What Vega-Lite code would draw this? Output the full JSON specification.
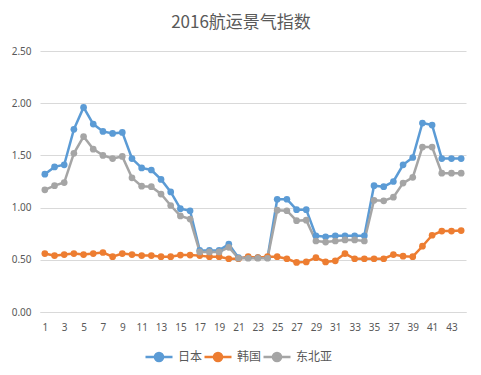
{
  "$schema": "https://vega.github.io/schema/vega-lite/v6.json",
  "width": 426,
  "height": 261,
  "autosize": {"type": "none"},
  "padding": {"left": 40, "top": 51, "right": 15, "bottom": 63},
  "background": "white",
  "title": {"text": "2016航运景气指数", "fontSize": 17, "font": "Noto Sans CJK SC", "fontWeight": "normal", "color": "#595959", "anchor": "middle", "offset": 14, "dx": -12},
  "datasets": {
    "raw": [
      {"s":"日本","i":1,"v":1.32},{"s":"日本","i":2,"v":1.39},{"s":"日本","i":3,"v":1.41},{"s":"日本","i":4,"v":1.75},{"s":"日本","i":5,"v":1.96},{"s":"日本","i":6,"v":1.80},{"s":"日本","i":7,"v":1.73},{"s":"日本","i":8,"v":1.71},{"s":"日本","i":9,"v":1.72},{"s":"日本","i":10,"v":1.47},{"s":"日本","i":11,"v":1.38},{"s":"日本","i":12,"v":1.36},{"s":"日本","i":13,"v":1.27},{"s":"日本","i":14,"v":1.15},{"s":"日本","i":15,"v":0.99},{"s":"日本","i":16,"v":0.97},{"s":"日本","i":17,"v":0.59},{"s":"日本","i":18,"v":0.59},{"s":"日本","i":19,"v":0.59},{"s":"日本","i":20,"v":0.65},{"s":"日本","i":21,"v":0.52},{"s":"日本","i":22,"v":0.52},{"s":"日本","i":23,"v":0.52},{"s":"日本","i":24,"v":0.52},{"s":"日本","i":25,"v":1.08},{"s":"日本","i":26,"v":1.08},{"s":"日本","i":27,"v":0.98},{"s":"日本","i":28,"v":0.98},{"s":"日本","i":29,"v":0.73},{"s":"日本","i":30,"v":0.72},{"s":"日本","i":31,"v":0.73},{"s":"日本","i":32,"v":0.73},{"s":"日本","i":33,"v":0.73},{"s":"日本","i":34,"v":0.73},{"s":"日本","i":35,"v":1.21},{"s":"日本","i":36,"v":1.20},{"s":"日本","i":37,"v":1.25},{"s":"日本","i":38,"v":1.41},{"s":"日本","i":39,"v":1.48},{"s":"日本","i":40,"v":1.81},{"s":"日本","i":41,"v":1.79},{"s":"日本","i":42,"v":1.47},{"s":"日本","i":43,"v":1.47},{"s":"日本","i":44,"v":1.47},
      {"s":"韩国","i":1,"v":0.56},{"s":"韩国","i":2,"v":0.54},{"s":"韩国","i":3,"v":0.55},{"s":"韩国","i":4,"v":0.56},{"s":"韩国","i":5,"v":0.55},{"s":"韩国","i":6,"v":0.56},{"s":"韩国","i":7,"v":0.57},{"s":"韩国","i":8,"v":0.53},{"s":"韩国","i":9,"v":0.56},{"s":"韩国","i":10,"v":0.55},{"s":"韩国","i":11,"v":0.54},{"s":"韩国","i":12,"v":0.54},{"s":"韩国","i":13,"v":0.53},{"s":"韩国","i":14,"v":0.53},{"s":"韩国","i":15,"v":0.545},{"s":"韩国","i":16,"v":0.545},{"s":"韩国","i":17,"v":0.54},{"s":"韩国","i":18,"v":0.53},{"s":"韩国","i":19,"v":0.53},{"s":"韩国","i":20,"v":0.51},{"s":"韩国","i":21,"v":0.51},{"s":"韩国","i":22,"v":0.53},{"s":"韩国","i":23,"v":0.52},{"s":"韩国","i":24,"v":0.53},{"s":"韩国","i":25,"v":0.53},{"s":"韩国","i":26,"v":0.51},{"s":"韩国","i":27,"v":0.475},{"s":"韩国","i":28,"v":0.48},{"s":"韩国","i":29,"v":0.52},{"s":"韩国","i":30,"v":0.48},{"s":"韩国","i":31,"v":0.49},{"s":"韩国","i":32,"v":0.56},{"s":"韩国","i":33,"v":0.51},{"s":"韩国","i":34,"v":0.51},{"s":"韩国","i":35,"v":0.51},{"s":"韩国","i":36,"v":0.51},{"s":"韩国","i":37,"v":0.55},{"s":"韩国","i":38,"v":0.535},{"s":"韩国","i":39,"v":0.53},{"s":"韩国","i":40,"v":0.63},{"s":"韩国","i":41,"v":0.735},{"s":"韩国","i":42,"v":0.775},{"s":"韩国","i":43,"v":0.775},{"s":"韩国","i":44,"v":0.78},
      {"s":"东北亚","i":1,"v":1.17},{"s":"东北亚","i":2,"v":1.21},{"s":"东北亚","i":3,"v":1.24},{"s":"东北亚","i":4,"v":1.52},{"s":"东北亚","i":5,"v":1.68},{"s":"东北亚","i":6,"v":1.56},{"s":"东北亚","i":7,"v":1.50},{"s":"东北亚","i":8,"v":1.47},{"s":"东北亚","i":9,"v":1.49},{"s":"东北亚","i":10,"v":1.285},{"s":"东北亚","i":11,"v":1.205},{"s":"东北亚","i":12,"v":1.20},{"s":"东北亚","i":13,"v":1.13},{"s":"东北亚","i":14,"v":1.02},{"s":"东北亚","i":15,"v":0.92},{"s":"东北亚","i":16,"v":0.89},{"s":"东北亚","i":17,"v":0.575},{"s":"东北亚","i":18,"v":0.575},{"s":"东北亚","i":19,"v":0.575},{"s":"东北亚","i":20,"v":0.62},{"s":"东北亚","i":21,"v":0.515},{"s":"东北亚","i":22,"v":0.515},{"s":"东北亚","i":23,"v":0.515},{"s":"东北亚","i":24,"v":0.515},{"s":"东北亚","i":25,"v":0.975},{"s":"东北亚","i":26,"v":0.97},{"s":"东北亚","i":27,"v":0.875},{"s":"东北亚","i":28,"v":0.88},{"s":"东北亚","i":29,"v":0.68},{"s":"东北亚","i":30,"v":0.67},{"s":"东北亚","i":31,"v":0.68},{"s":"东北亚","i":32,"v":0.69},{"s":"东北亚","i":33,"v":0.69},{"s":"东北亚","i":34,"v":0.68},{"s":"东北亚","i":35,"v":1.07},{"s":"东北亚","i":36,"v":1.065},{"s":"东北亚","i":37,"v":1.10},{"s":"东北亚","i":38,"v":1.235},{"s":"东北亚","i":39,"v":1.29},{"s":"东北亚","i":40,"v":1.58},{"s":"东北亚","i":41,"v":1.58},{"s":"东北亚","i":42,"v":1.33},{"s":"东北亚","i":43,"v":1.33},{"s":"东北亚","i":44,"v":1.33}
    ]
  },
  "data": {"name": "raw"},
  "mark": {"type": "line", "strokeWidth": 2.5, "point": {"filled": true, "size": 45}},
  "encoding": {
    "x": {
      "field": "i", "type": "ordinal",
      "scale": {"padding": 0.5},
      "axis": {"values": [1,3,5,7,9,11,13,15,17,19,21,23,25,27,29,31,33,35,37,39,41,43], "labelAngle": 0, "title": null, "ticks": false, "domain": true, "domainColor": "#d9d9d9", "labelPadding": 10, "labelFontSize": 10, "labelColor": "#595959", "labelFont": "Noto Sans", "grid": false}
    },
    "y": {
      "field": "v", "type": "quantitative",
      "scale": {"domain": [0, 2.5]},
      "axis": {"values": [0, 0.5, 1, 1.5, 2, 2.5], "format": ".2f", "title": null, "ticks": false, "domain": false, "gridColor": "#d9d9d9", "labelPadding": 9, "labelFontSize": 10, "labelColor": "#595959", "labelFont": "Noto Sans"}
    },
    "color": {
      "field": "s", "type": "nominal",
      "scale": {"domain": ["日本", "韩国", "东北亚"], "range": ["#5B9BD5", "#ED7D31", "#A5A5A5"]},
      "legend": {"orient": "none", "legendX": 104, "legendY": 291, "direction": "horizontal", "gridAlign": "none", "title": null, "labelFont": "Noto Sans CJK SC", "labelFontSize": 12, "labelColor": "#595959", "symbolType": "M-1,0L1,0M-0.3,0A0.3,0.3 0 1,1 0.3,0A0.3,0.3 0 1,1 -0.3,0Z", "symbolSize": 729, "symbolStrokeWidth": 2.5, "columnPadding": -4, "labelOffset": 4}
    }
  },
  "config": {"view": {"stroke": null}, "font": "Noto Sans CJK SC"}
}
